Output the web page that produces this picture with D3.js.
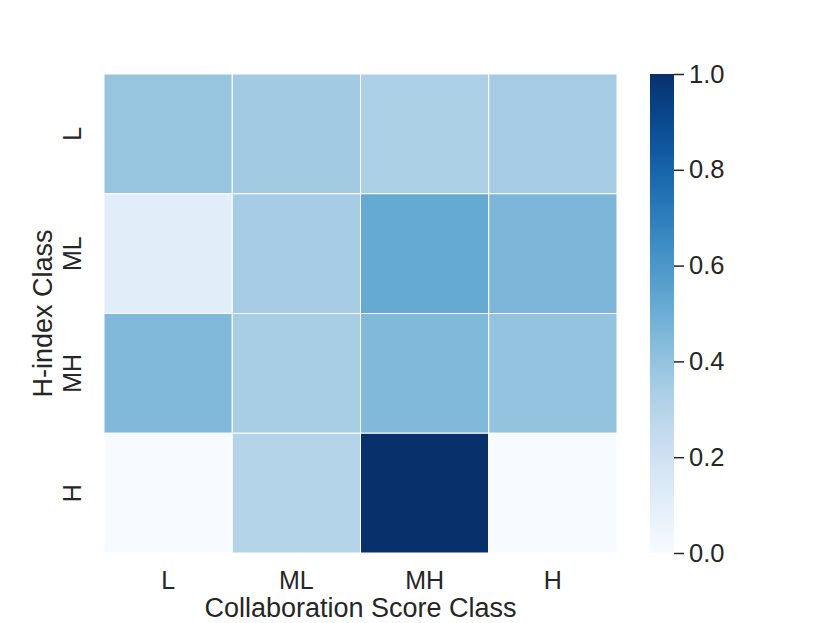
<!DOCTYPE html>
<html>
<head>
<meta charset="utf-8">
<script src="https://cdn.jsdelivr.net/npm/d3@7"></script>
<style>
  body { margin: 0; background: #fff; }
  svg text { font-family: "Liberation Sans", Arial, sans-serif; fill: #262626; }
</style>
</head>
<body>
<div id="chart"></div>
<script>
// categories
var colClasses = ["L", "ML", "MH", "H"];
var rowClasses = ["L", "ML", "MH", "H"];
// cell values, one array per H-index class (row)
var rowL  = [0.39, 0.36, 0.33, 0.35];
var rowML = [0.11, 0.35, 0.52, 0.46];
var rowMH = [0.45, 0.34, 0.45, 0.40];
var rowH  = [0.00, 0.31, 1.00, 0.00];
var colorTicks = [0.0, 0.2, 0.4, 0.6, 0.8, 1.0];

var rows = [rowL, rowML, rowMH, rowH];
var cells = [];
rows.forEach(function(r, i) {
  r.forEach(function(v, j) {
    cells.push({ row: rowClasses[i], col: colClasses[j], value: v });
  });
});

var width = 830, height = 623;
var mLeft = 104, mRight = 617, mTop = 74, mBottom = 553;

var svg = d3.select('#chart').append('svg')
  .attr('width', width).attr('height', height);

var x = d3.scaleBand().domain(colClasses).range([mLeft, mRight]);
var y = d3.scaleBand().domain(rowClasses).range([mTop, mBottom]);
var color = d3.scaleSequential(d3.interpolateBlues).domain([0, 1]);

// cells
svg.append('g').selectAll('rect')
  .data(cells)
  .enter()
  .append('rect')
  .attr('x', function(d) { return x(d.col); })
  .attr('y', function(d) { return y(d.row); })
  .attr('width', x.bandwidth())
  .attr('height', y.bandwidth())
  .attr('fill', function(d) { return color(d.value); })
  .attr('stroke', '#fff')
  .attr('stroke-width', 1);

// x tick labels
svg.append('g').selectAll('text')
  .data(colClasses)
  .enter()
  .append('text')
  .attr('x', function(d) { return x(d) + x.bandwidth() / 2; })
  .attr('y', 589)
  .attr('text-anchor', 'middle')
  .style('font-size', '25px')
  .text(function(d) { return d; });

// y tick labels, rotated
svg.append('g').selectAll('text')
  .data(rowClasses)
  .enter()
  .append('text')
  .attr('transform', function(d) {
    return 'translate(81,' + (y(d) + y.bandwidth() / 2) + ') rotate(-90)';
  })
  .attr('text-anchor', 'middle')
  .style('font-size', '25px')
  .text(function(d) { return d; });

// axis titles
svg.append('text')
  .attr('x', (mLeft + mRight) / 2)
  .attr('y', 617)
  .attr('text-anchor', 'middle')
  .style('font-size', '27px')
  .text('Collaboration Score Class');

svg.append('text')
  .attr('transform', 'translate(52,' + (mTop + mBottom) / 2 + ') rotate(-90)')
  .attr('text-anchor', 'middle')
  .style('font-size', '27px')
  .text('H-index Class');

// colorbar
var cbX = 650, cbW = 24;
var defs = svg.append('defs');
var grad = defs.append('linearGradient')
  .attr('id', 'cbgrad')
  .attr('x1', 0).attr('y1', 1).attr('x2', 0).attr('y2', 0);
d3.range(0, 1.0001, 0.05).forEach(function(t) {
  grad.append('stop').attr('offset', t).attr('stop-color', color(t));
});
svg.append('rect')
  .attr('x', cbX).attr('y', mTop)
  .attr('width', cbW).attr('height', mBottom - mTop)
  .attr('fill', 'url(#cbgrad)');

var cy = d3.scaleLinear().domain([0, 1]).range([mBottom, mTop]);
var cbAxis = svg.append('g')
  .attr('transform', 'translate(' + (cbX + cbW) + ',0)')
  .call(d3.axisRight(cy).tickValues(colorTicks).tickFormat(d3.format('.1f')).tickSize(10).tickPadding(5));
cbAxis.select('.domain').remove();
cbAxis.selectAll('line').attr('stroke', '#262626').attr('stroke-width', 1.5);
cbAxis.selectAll('text')
  .style('font-size', '25.5px')
  .style('font-family', '"Liberation Sans", Arial, sans-serif')
  .attr('fill', '#262626');
</script>
</body>
</html>
